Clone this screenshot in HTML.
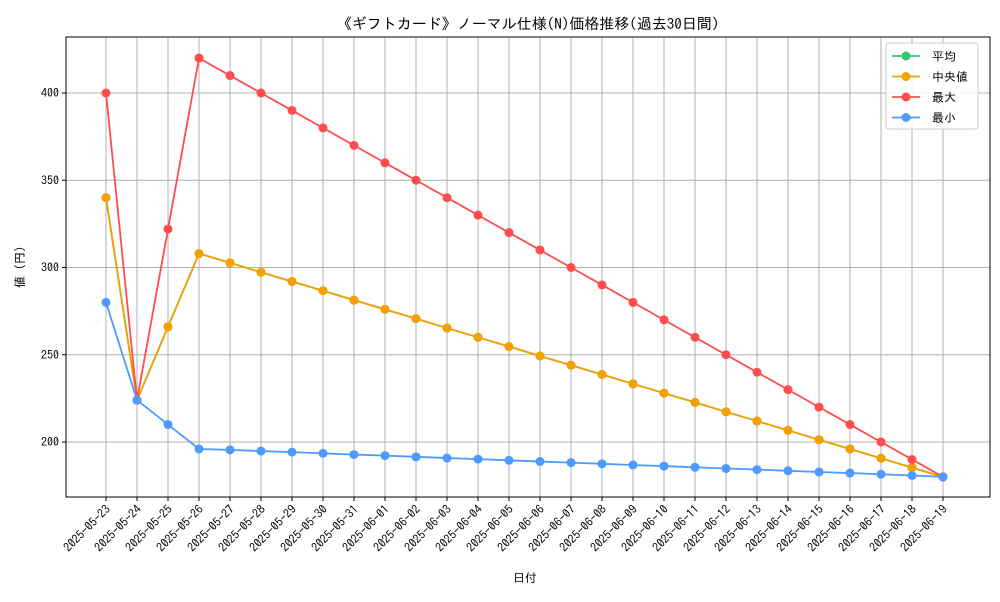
<!DOCTYPE html>
<html><head><meta charset="utf-8"><style>
body{margin:0;background:#fff;font-family:"IPAGothic","Noto Sans CJK JP",sans-serif;}
svg text{font-family:"IPAGothic","Noto Sans CJK JP",sans-serif;}
</style></head><body>
<svg id="chart" width="1000" height="600" xmlns="http://www.w3.org/2000/svg">
<rect width="1000" height="600" fill="#fff"/>
<text x="528" y="29" font-size="15" text-anchor="middle" fill="#000">《ギフトカード》ノーマル仕様(N)価格推移(過去30日間)</text>
<g id="grid"></g><g id="series"></g><g id="axes"></g>
<text x="525" y="582" font-size="12" text-anchor="middle">日付</text>
<text transform="translate(24,267) rotate(-90)" font-size="12" text-anchor="middle">値 (円)</text>
<g>
<rect x="886" y="43" width="92" height="86" rx="3" fill="#fff" fill-opacity="0.85" stroke="#ccc"/>
<g id="legend-items"></g>
</g>
</svg>
<script>
const dates=["2025-05-23","2025-05-24","2025-05-25","2025-05-26","2025-05-27","2025-05-28","2025-05-29","2025-05-30","2025-05-31","2025-06-01","2025-06-02","2025-06-03","2025-06-04","2025-06-05","2025-06-06","2025-06-07","2025-06-08","2025-06-09","2025-06-10","2025-06-11","2025-06-12","2025-06-13","2025-06-14","2025-06-15","2025-06-16","2025-06-17","2025-06-18","2025-06-19"];
const avgVals=[340,224,266,308,302.7,297.3,292,286.7,281.3,276,270.7,265.3,260,254.7,249.3,244,238.7,233.3,228,222.7,217.3,212,206.7,201.3,196,190.7,185.3,180];
const medVals=[340,224,266,308,302.7,297.3,292,286.7,281.3,276,270.7,265.3,260,254.7,249.3,244,238.7,233.3,228,222.7,217.3,212,206.7,201.3,196,190.7,185.3,180];
const maxVals=[400,224,322,420,410,400,390,380,370,360,350,340,330,320,310,300,290,280,270,260,250,240,230,220,210,200,190,180];
const minVals=[280,224,210,196,195.5,194.8,194.2,193.5,192.8,192.2,191.5,190.8,190.2,189.5,188.8,188.2,187.5,186.8,186.2,185.5,184.8,184.2,183.5,182.8,182.2,181.5,180.8,180];
const yTicks=[200,250,300,350,400];
const NS="http://www.w3.org/2000/svg";
const L=66,R=990,T=37,B=497;
const x=i=>106+i*(943-106)/(dates.length-1);
const y=v=>442-(v-200)*(442-93)/200;
function mk(t,a,p){const e=document.createElementNS(NS,t);for(const k in a)e.setAttribute(k,a[k]);p.appendChild(e);return e;}
const grid=document.getElementById('grid'),axes=document.getElementById('axes'),ser=document.getElementById('series');
dates.forEach((d,i)=>{
 const g=mk('line',{x1:x(i),x2:x(i),y1:T,y2:B,stroke:'#b0b0b0','stroke-width':1},grid);
 
 
 mk('line',{x1:x(i),x2:x(i),y1:B,y2:B+4,stroke:'#000'},axes);
 const t=mk('text',{x:0,y:0,'font-size':12,'text-anchor':'end',transform:`translate(${x(i)+5},${B+13}) rotate(-45)`},axes);
 t.textContent=d;
 
 
});
yTicks.forEach(v=>{
 const g=mk('line',{x1:L,x2:R,y1:y(v),y2:y(v),stroke:'#b0b0b0','stroke-width':1},grid);
 
 
 mk('line',{x1:L-4,x2:L,y1:y(v),y2:y(v),stroke:'#000'},axes);
 const t=mk('text',{x:L-7,y:y(v)+4,'font-size':12,'text-anchor':'end'},axes);
 t.textContent=v;
 
 
});
const frame=mk('rect',{x:L,y:T,width:R-L,height:B-T,fill:'none',stroke:'#000','stroke-width':1},axes);


const series=[["平均",avgVals,"#2ecc71","series-average"],["中央値",medVals,"#f5a000","series-median"],["最大",maxVals,"#ff4d4d","series-max"],["最小",minVals,"#4d9bff","series-min"]];
series.forEach(([n,vals,c,nm])=>{
 const g=mk('g',{},ser);
 
 
 mk('polyline',{points:vals.map((v,i)=>x(i)+','+y(v)).join(' '),fill:'none',stroke:c,'stroke-width':1.8},g);
 vals.forEach((v,i)=>{const p=mk('circle',{cx:x(i),cy:y(v),r:4.5,fill:c},g);
  
  });
});
const li=document.getElementById('legend-items');
series.forEach(([n,vals,c,nm],k)=>{
 const yy=56+k*20.5;
 const g=mk('g',{},li);
 
 
 mk('line',{x1:892,x2:920,y1:yy,y2:yy,stroke:c,'stroke-width':1.8},g);
 mk('circle',{cx:906,cy:yy,r:4.5,fill:c},g);
 const t=mk('text',{x:932,y:yy+4.5,'font-size':12},g);t.textContent=n;
});
</script>
</body></html>
